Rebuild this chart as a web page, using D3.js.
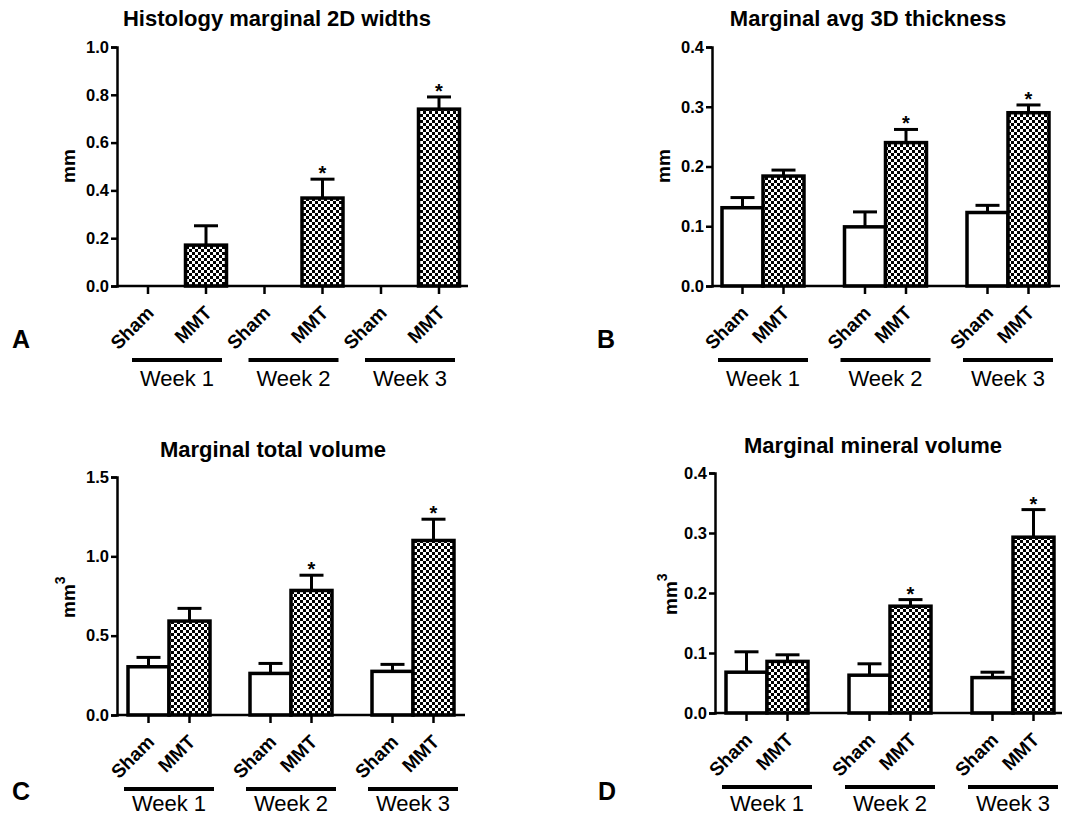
<!DOCTYPE html>
<html>
<head>
<meta charset="utf-8">
<script src="https://cdn.jsdelivr.net/npm/d3@7"></script>
<style>
  body { margin: 0; background: #fff; }
  svg { display: block; font-family: 'Liberation Sans', Arial, sans-serif; }
</style>
</head>
<body>
<svg id="chart" width="1081" height="818"></svg>
<script>
const weeks = ['Week 1', 'Week 2', 'Week 3']
const groups = ['Sham', 'MMT']

// A - histology widths (mm)
const widthSham = [0, 0, 0]
const widthShamSem = [0, 0, 0]
const widthMMT = [0.171, 0.368, 0.74]
const widthMMTSem = [0.081, 0.079, 0.051]
const widthTicks = [0, 0.2, 0.4, 0.6, 0.8, 1.0]

// B - avg 3D thickness (mm)
const thickSham = [0.131, 0.099, 0.123]
const thickShamSem = [0.017, 0.025, 0.012]
const thickMMT = [0.184, 0.24, 0.29]
const thickMMTSem = [0.010, 0.022, 0.013]
const thickTicks = [0, 0.1, 0.2, 0.3, 0.4]

// C - total volume (mm3)
const volSham = [0.304, 0.262, 0.275]
const volShamSem = [0.059, 0.063, 0.044]
const volMMT = [0.592, 0.785, 1.10]
const volMMTSem = [0.080, 0.096, 0.134]
const volTicks = [0, 0.5, 1.0, 1.5]

// D - mineral volume (mm3)
const minSham = [0.068, 0.063, 0.059]
const minShamSem = [0.034, 0.019, 0.009]
const minMMT = [0.086, 0.178, 0.293]
const minMMTSem = [0.011, 0.011, 0.046]
const minTicks = [0, 0.1, 0.2, 0.3, 0.4]

const starMMT = [false, true, true]

const panels = [
  {title: 'Histology marginal 2D widths', letter: 'A', unit: 'mm', sup: false,
   sham: widthSham, shamSem: widthShamSem, mmt: widthMMT, mmtSem: widthMMTSem, ticks: widthTicks,
   x0: 117, top: 47, bottom: 286, xEnd: 468, start: 127.5, step: 116.5, inner: 58, bw: 41,
   titleX: 277, titleY: 26, letterX: 12, letterY: 348, labelX: 75, labelY: 183},
  {title: 'Marginal avg 3D thickness', letter: 'B', unit: 'mm', sup: false,
   sham: thickSham, shamSem: thickShamSem, mmt: thickMMT, mmtSem: thickMMTSem, ticks: thickTicks,
   x0: 712, top: 47, bottom: 286, xEnd: 1060, start: 722, step: 122.5, inner: 41, bw: 41,
   titleX: 868, titleY: 26, letterX: 597, letterY: 348, labelX: 670, labelY: 183},
  {title: 'Marginal total volume', letter: 'C', unit: 'mm', sup: true,
   sham: volSham, shamSem: volShamSem, mmt: volMMT, mmtSem: volMMTSem, ticks: volTicks,
   x0: 117, top: 477, bottom: 715, xEnd: 465, start: 128, step: 122, inner: 41, bw: 41,
   titleX: 273, titleY: 457, letterX: 12, letterY: 800, labelX: 75, labelY: 618},
  {title: 'Marginal mineral volume', letter: 'D', unit: 'mm', sup: true,
   sham: minSham, shamSem: minShamSem, mmt: minMMT, mmtSem: minMMTSem, ticks: minTicks,
   x0: 715, top: 473, bottom: 713, xEnd: 1062, start: 726, step: 123, inner: 41, bw: 41,
   titleX: 873, titleY: 453, letterX: 598, letterY: 800, labelX: 677, labelY: 615}
]

const svg = d3.select('#chart')

// checkerboard fill for MMT bars
const pat = svg.append('defs').append('pattern')
  .attr('id', 'check').attr('patternUnits', 'userSpaceOnUse')
  .attr('width', 6).attr('height', 6)
pat.append('rect').attr('width', 6).attr('height', 6).attr('fill', '#fff')
pat.append('rect').attr('width', 3).attr('height', 3).attr('fill', '#000')
pat.append('rect').attr('x', 3).attr('y', 3).attr('width', 3).attr('height', 3).attr('fill', '#000')

panels.forEach(p => {
  const g = svg.append('g')
  const y = d3.scaleLinear().domain([0, d3.max(p.ticks)]).range([p.bottom, p.top])
  const gx = d3.scaleBand().domain(weeks).range([p.start, p.start + 3 * p.step])
  const ix = d3.scalePoint().domain(groups).range([0, p.inner])

  const rows = []
  weeks.forEach((w, i) => {
    rows.push({week: w, grp: 'Sham', v: p.sham[i], sem: p.shamSem[i], star: false})
    rows.push({week: w, grp: 'MMT', v: p.mmt[i], sem: p.mmtSem[i], star: starMMT[i]})
  })
  const cx = d => gx(d.week) + ix(d.grp) + p.bw / 2

  // error bars (drawn first, bar covers the lower half)
  rows.filter(d => d.v > 0).forEach(d => {
    g.append('line').attr('x1', cx(d)).attr('x2', cx(d))
      .attr('y1', y(d.v)).attr('y2', y(d.v + d.sem))
      .attr('stroke', '#000').attr('stroke-width', 3)
    g.append('line').attr('x1', cx(d) - 12).attr('x2', cx(d) + 12)
      .attr('y1', y(d.v + d.sem)).attr('y2', y(d.v + d.sem))
      .attr('stroke', '#000').attr('stroke-width', 3)
    if (d.star) {
      g.append('text').attr('x', cx(d)).attr('y', y(d.v + d.sem) + 1)
        .attr('text-anchor', 'middle').style('font', 'bold 20px "Liberation Sans", Arial, sans-serif')
        .text('*')
    }
  })

  // bars
  g.selectAll('rect.bar').data(rows.filter(d => d.v > 0)).enter().append('rect')
    .attr('class', 'bar')
    .attr('x', d => gx(d.week) + ix(d.grp))
    .attr('y', d => y(d.v))
    .attr('width', p.bw)
    .attr('height', d => y(0) - y(d.v))
    .attr('fill', d => d.grp === 'MMT' ? 'url(#check)' : '#fff')
    .attr('stroke', '#000').attr('stroke-width', 3.5)

  // y axis
  const ya = g.append('g').attr('transform', `translate(${p.x0},0)`)
    .call(d3.axisLeft(y).tickValues(p.ticks).tickFormat(d3.format('.1f')).tickSize(6).tickPadding(2))
  ya.select('.domain').attr('stroke-width', 2.5)
  ya.selectAll('.tick line').attr('stroke-width', 2.5)
  ya.selectAll('.tick text').style('font', 'bold 16.5px "Liberation Sans", Arial, sans-serif').attr('fill', '#000')

  // x axis
  g.append('line').attr('x1', p.x0).attr('x2', p.xEnd).attr('y1', p.bottom).attr('y2', p.bottom)
    .attr('stroke', '#000').attr('stroke-width', 2.5)
  rows.forEach(d => {
    g.append('line').attr('x1', cx(d)).attr('x2', cx(d)).attr('y1', p.bottom).attr('y2', p.bottom + 8)
      .attr('stroke', '#000').attr('stroke-width', 2.5)
    g.append('text')
      .attr('transform', `translate(${cx(d) + 7},${p.bottom + 28}) rotate(-45)`)
      .attr('text-anchor', 'end')
      .style('font', 'bold 19px "Liberation Sans", Arial, sans-serif')
      .text(d.grp)
  })

  // week brackets
  weeks.forEach(w => {
    const c = (cx({week: w, grp: 'Sham'}) + cx({week: w, grp: 'MMT'})) / 2
    g.append('line').attr('x1', c - 45).attr('x2', c + 45)
      .attr('y1', p.bottom + 74).attr('y2', p.bottom + 74)
      .attr('stroke', '#000').attr('stroke-width', 4)
    g.append('text').attr('x', c).attr('y', Math.min(p.bottom + 100, 811))
      .attr('text-anchor', 'middle')
      .style('font', '22px "Liberation Sans", Arial, sans-serif')
      .text(w)
  })

  // title, unit label, panel letter
  g.append('text').attr('x', p.titleX).attr('y', p.titleY).attr('text-anchor', 'middle')
    .style('font', 'bold 22px "Liberation Sans", Arial, sans-serif').text(p.title)

  const lab = g.append('text')
    .attr('transform', `translate(${p.labelX},${p.labelY}) rotate(-90)`)
    .style('font', 'bold 19px "Liberation Sans", Arial, sans-serif')
    .text(p.unit)
  if (p.sup) lab.append('tspan').attr('dy', -10).style('font-size', '14px').text('3')

  g.append('text').attr('x', p.letterX).attr('y', p.letterY)
    .style('font', 'bold 25px "Liberation Sans", Arial, sans-serif').text(p.letter)
})
</script>
</body>
</html>
